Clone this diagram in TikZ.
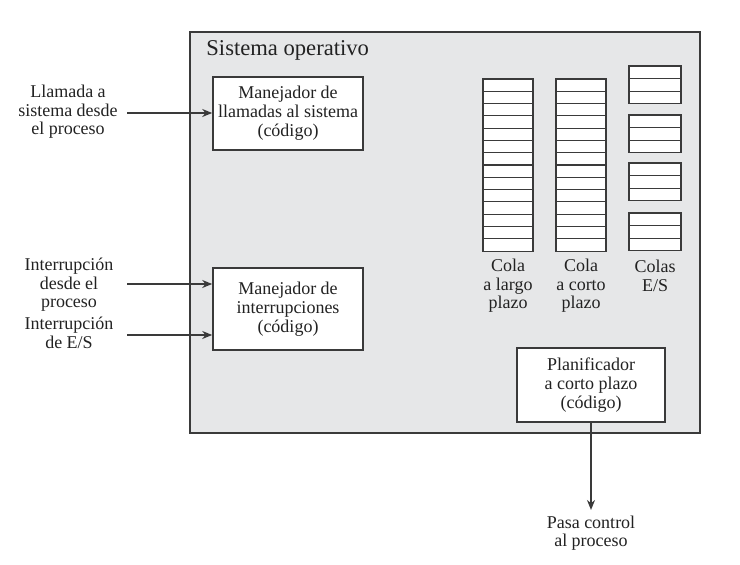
\documentclass[tikz,border=0pt]{standalone}
\usepackage{fontspec}
\setmainfont{Liberation Serif}
\usetikzlibrary{arrows.meta}
\definecolor{osfill}{HTML}{E6E7E8}
\definecolor{edge}{HTML}{3A3A3A}
\definecolor{txt}{HTML}{222222}
\tikzset{
  px/.style={x=0.5pt,y=-0.5pt},
  lbl/.style={align=center,font=\fontsize{9}{9.2}\selectfont,text=txt,inner sep=0pt},
  codebox/.style={draw=edge,line width=0.8pt,fill=white,align=center,
     font=\fontsize{9}{9.6}\selectfont,text=txt,inner sep=0pt},
  arr/.style={draw=edge,line width=0.8pt,-{Stealth[length=5pt,width=4pt]}},
  slot/.style={draw=edge,line width=0.55pt,fill=white}
}
\begin{document}
\begin{tikzpicture}[px]
\useasboundingbox (0,0) rectangle (740,565);
% outer OS box
\draw[draw=edge,line width=1pt,fill=osfill] (190,32) rectangle (700,433);
\node[lbl,anchor=west,font=\fontsize{11.3}{12}\selectfont] (title) at (206,50) {Sistema operativo};
% code boxes
\node[codebox,minimum width=75pt,minimum height=36.5pt] (llam) at (288,113.5)
  {Manejador de\\llamadas al sistema\\(código)};
\node[codebox,minimum width=75pt,minimum height=41pt] (intr) at (288,309)
  {Manejador de\\interrupciones\\(código)};
\node[codebox,minimum width=74pt,minimum height=37pt] (plan) at (591,385)
  {Planificador\\a corto plazo\\(código)};
% left inputs
\node[lbl] (t1) at (68,112) {Llamada a\\sistema desde\\el proceso};
\node[lbl] (t2) at (69,285) {Interrupción\\desde el\\proceso};
\node[lbl] (t3) at (69,333) {Interrupción\\de E/S};
\coordinate (c1) at (127,113);
\coordinate (c2) at (127,284);
\coordinate (c3) at (127,335);
\draw[arr] (c1) -- (c1 -| llam.west);
\draw[arr] (c2) -- (c2 -| intr.west);
\draw[arr] (c3) -- (c3 -| intr.west);
% queues
\foreach \x in {483,556}{
  \foreach \i in {0,...,13}{
    \draw[slot] (\x,{79+\i*12.29}) rectangle ({\x+50},{79+(\i+1)*12.29});
  }
}
\foreach \t in {66,115,163,213}{
  \foreach \i in {0,1,2}{
    \draw[slot] (629,{\t+\i*12.6}) rectangle (681,{\t+(\i+1)*12.6});
  }
}
\node[lbl] (q1) at (508,286) {Cola\\a largo\\plazo};
\node[lbl] (q2) at (581,286) {Cola\\a corto\\plazo};
\node[lbl] (q3) at (655,276) {Colas\\E/S};
% output
\coordinate (c4) at (591,510);
\draw[arr] (plan.south) -- (c4);
\node[lbl] (t4) at (591,533) {Pasa control\\al proceso};
\end{tikzpicture}
\end{document}
